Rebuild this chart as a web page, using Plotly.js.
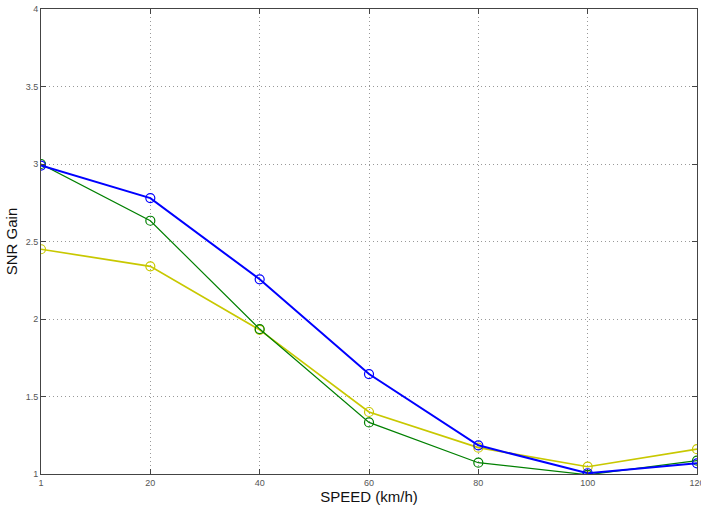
<!DOCTYPE html>
<html><head><meta charset="utf-8">
<script src="https://cdn.plot.ly/plotly-3.0.1.min.js"></script>
<style>html,body{margin:0;padding:0;background:#fff}#c{width:701px;height:507px}</style>
</head><body><div id="c"></div>
<script>
const xPos = [0, 20, 40, 60, 80, 100, 120];
const xTickText = ['1', '20', '40', '60', '80', '100', '120'];
const blueVals = [2.99, 2.78, 2.256, 1.645, 1.185, 1.005, 1.069];
const greenVals = [3.0, 2.634, 1.935, 1.333, 1.073, 0.995, 1.086];
const yellowVals = [2.45, 2.34, 1.93, 1.40, 1.17, 1.047, 1.16];
const yTickVals = [1, 1.5, 2, 2.5, 3, 3.5, 4];
const yTickText = ['1', '1.5', '2', '2.5', '3', '3.5', '4'];

function tr(y, color, w) {
  return {x: xPos, y: y, type: 'scatter', mode: 'lines+markers',
    line: {color: color, width: w},
    marker: {symbol: 'circle-open', size: 9, color: color, line: {width: 1.2, color: color}}};
}
const data = [tr(yellowVals, '#c8c800', 1.7), tr(greenVals, '#008000', 1.2), tr(blueVals, '#0000ff', 2)];
const axisCommon = {showline: true, mirror: 'ticks', linecolor: '#444', linewidth: 1,
  ticks: 'inside', ticklen: 5, tickcolor: '#444', showgrid: true, gridcolor: '#999',
  griddash: '1px,3px', gridwidth: 1, zeroline: false, ticklabeloverflow: 'allow',
  tickfont: {family: 'Liberation Sans, Arial, sans-serif', size: 9, color: '#555'}};
const layout = {
  width: 701, height: 507, showlegend: false,
  paper_bgcolor: '#fff', plot_bgcolor: '#fff',
  margin: {l: 41, r: 4, t: 9, b: 33},
  xaxis: Object.assign({}, axisCommon, {range: [0, 120], tickvals: xPos, ticktext: xTickText,
    title: {text: 'SPEED (km/h)', standoff: 4, font: {family: 'Liberation Sans, Arial, sans-serif', size: 15, color: '#111'}}}),
  yaxis: Object.assign({}, axisCommon, {range: [1, 4], tickvals: yTickVals, ticktext: yTickText,
    title: {text: 'SNR Gain', standoff: 4, font: {family: 'Liberation Sans, Arial, sans-serif', size: 15, color: '#111'}}})
};
Plotly.newPlot('c', data, layout, {displayModeBar: false, staticPlot: true});
</script></body></html>
